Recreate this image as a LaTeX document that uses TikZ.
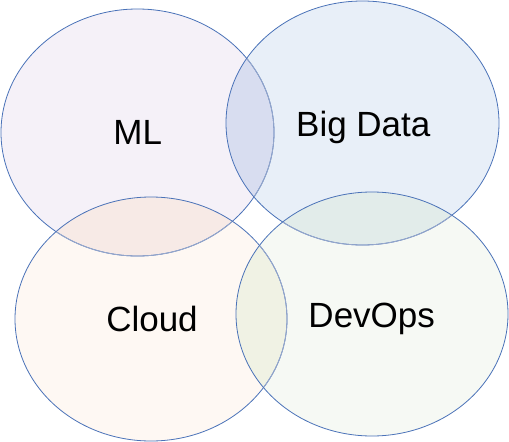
\documentclass[tikz,border=0pt]{standalone}
\usepackage{fontspec}
\setmainfont{Liberation Sans}
\definecolor{edge}{HTML}{4A72B8}
\definecolor{edgefade}{HTML}{97A8CC}
\definecolor{cML}{HTML}{F5F1F8}
\definecolor{cBD}{HTML}{E8EFF8}
\definecolor{cMLBD}{HTML}{D8DDF0}
\definecolor{cCL}{HTML}{FEF8F3}
\definecolor{cMLCL}{HTML}{F7EAE6}
\definecolor{cDO}{HTML}{F6F9F4}
\definecolor{cBDDO}{HTML}{E2ECEA}
\definecolor{cCLDO}{HTML}{F0F2E4}
\tikzset{
  ring/.style={draw=edge, line width=0.8pt},
  fadering/.style={draw=edgefade, line width=0.8pt},
  label/.style={font=\fontsize{35}{41}\selectfont, inner sep=0pt, anchor=base, text=black}
}
\begin{document}
\begin{tikzpicture}[x=1pt,y=-1pt]
\useasboundingbox (0,0) rectangle (509,442);
% ML
\fill[cML] (137.5,132.5) ellipse [x radius=136.5pt, y radius=123.5pt];
% Big Data
\fill[cBD] (362.5,123) ellipse [x radius=136.5pt, y radius=122pt];
\begin{scope}
  \clip (137.5,132.5) ellipse [x radius=136.5pt, y radius=123.5pt];
  \fill[cMLBD] (362.5,123) ellipse [x radius=136.5pt, y radius=122pt];
\end{scope}
% Cloud
\fill[cCL] (151,319) ellipse [x radius=136pt, y radius=122pt];
\begin{scope}
  \clip (137.5,132.5) ellipse [x radius=136.5pt, y radius=123.5pt];
  \fill[cMLCL] (151,319) ellipse [x radius=136pt, y radius=122pt];
\end{scope}
% DevOps
\fill[cDO] (372,314) ellipse [x radius=136pt, y radius=122pt];
\begin{scope}
  \clip (362.5,123) ellipse [x radius=136.5pt, y radius=122pt];
  \fill[cBDDO] (372,314) ellipse [x radius=136pt, y radius=122pt];
\end{scope}
\begin{scope}
  \clip (151,319) ellipse [x radius=136pt, y radius=122pt];
  \fill[cCLDO] (372,314) ellipse [x radius=136pt, y radius=122pt];
\end{scope}
% outlines
\path[ring] (137.5,132.5) ellipse [x radius=136.5pt, y radius=123.5pt];
\path[ring] (362.5,123) ellipse [x radius=136.5pt, y radius=122pt];
\path[ring] (151,319) ellipse [x radius=136pt, y radius=122pt];
\path[ring] (372,314) ellipse [x radius=136pt, y radius=122pt];
% faded covered outlines
\begin{scope}
  \clip (362.5,123) ellipse [x radius=136pt, y radius=121.5pt];
  \path[fadering] (137.5,132.5) ellipse [x radius=136.5pt, y radius=123.5pt];
\end{scope}
\begin{scope}
  \clip (151,319) ellipse [x radius=135.5pt, y radius=121.5pt];
  \path[fadering] (137.5,132.5) ellipse [x radius=136.5pt, y radius=123.5pt];
\end{scope}
\begin{scope}
  \clip (372,314) ellipse [x radius=135.5pt, y radius=121.5pt];
  \path[fadering] (362.5,123) ellipse [x radius=136.5pt, y radius=122pt];
  \path[fadering] (151,319) ellipse [x radius=136pt, y radius=122pt];
\end{scope}
% labels
\node[label] (ml) at (137.8,144.5) {ML};
\node[label] (bd) at (363.3,136) {Big Data};
\node[label] (cl) at (152,331.5) {Cloud};
\node[label] (do) at (371.7,327.5) {DevOps};
\end{tikzpicture}
\end{document}
